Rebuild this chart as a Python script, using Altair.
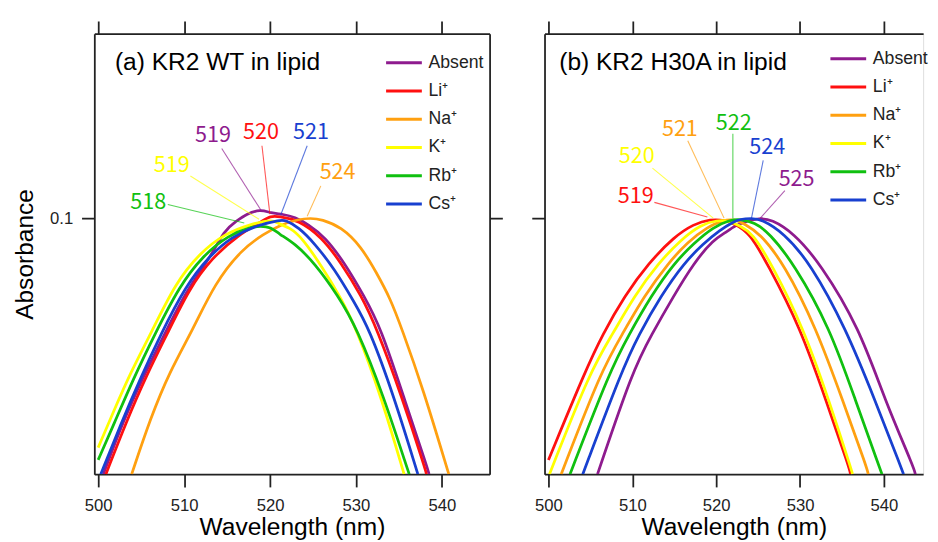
import altair as alt
import pandas as pd

series = ["Absent", "Li⁺", "Na⁺", "K⁺", "Rb⁺", "Cs⁺"]
colors = ["#8E1B8E", "#FF1010", "#FFA010", "#FFFF00", "#10C010", "#1840D0"]
x_ticks = [500, 510, 520, 530, 540]
y_ticks = [0.1]
y_domain = [0.0382, 0.2]
a_x_domain = [499.55, 545.55]
b_x_domain = [499.53, 544.68]

# ---------- (a) KR2 WT in lipid ----------
a_absent_x = [500.6, 502.9, 505.3, 507.8, 510.4, 513.0, 514.7, 516.1, 517.2, 518.9, 520.1, 521.5, 522.9, 524.4, 526.4, 528.7, 530.9, 532.9, 535.5, 538.4, 538.5]
a_absent_y = [0.0382, 0.0466, 0.0553, 0.0650, 0.0767, 0.0860, 0.0957, 0.0989, 0.1015, 0.1034, 0.1019, 0.1015, 0.1004, 0.0978, 0.0932, 0.0844, 0.0748, 0.0662, 0.0513, 0.0388, 0.0382]
a_li_x = [500.9, 503.3, 505.6, 508.1, 510.6, 513.2, 516.3, 519.3, 520.0, 521.0, 523.3, 526.0, 528.3, 530.6, 532.4, 535.3, 538.1, 538.2]
a_li_y = [0.0382, 0.0466, 0.0553, 0.0650, 0.0767, 0.0860, 0.0939, 0.0993, 0.1007, 0.1007, 0.0993, 0.0932, 0.0844, 0.0748, 0.0662, 0.0513, 0.0388, 0.0382]
a_na_x = [503.9, 506.1, 508.3, 511.0, 513.6, 516.7, 519.3, 521.2, 523.3, 524.7, 526.0, 528.3, 530.6, 532.4, 534.0, 535.3, 537.8, 540.8]
a_na_y = [0.0382, 0.0472, 0.0561, 0.0657, 0.0784, 0.0889, 0.0943, 0.0975, 0.0996, 0.1000, 0.0996, 0.0967, 0.0899, 0.0814, 0.0739, 0.0662, 0.0527, 0.0382]
a_k_x = [500.0, 501.8, 503.8, 506.1, 509.0, 511.8, 514.7, 517.8, 520.3, 521.0, 522.3, 523.7, 526.0, 528.3, 530.0, 532.9, 535.6]
a_k_y = [0.0422, 0.0484, 0.0561, 0.0647, 0.0784, 0.0876, 0.0943, 0.0978, 0.0996, 0.0978, 0.0965, 0.0930, 0.0835, 0.0739, 0.0662, 0.0513, 0.0382]
a_rb_x = [500.0, 501.8, 504.1, 506.6, 509.5, 512.1, 515.2, 517.8, 518.9, 520.1, 521.0, 522.9, 525.2, 527.9, 530.1, 533.2, 536.1, 536.2]
a_rb_y = [0.0403, 0.0460, 0.0547, 0.0647, 0.0776, 0.0866, 0.0939, 0.0967, 0.0971, 0.0967, 0.0943, 0.0909, 0.0844, 0.0748, 0.0662, 0.0513, 0.0385, 0.0382]
a_cs_x = [500.3, 502.6, 504.9, 507.3, 510.2, 512.9, 515.5, 518.6, 521.2, 521.8, 523.3, 525.2, 527.5, 529.8, 531.5, 534.4, 537.2]
a_cs_y = [0.0382, 0.0460, 0.0547, 0.0647, 0.0776, 0.0866, 0.0932, 0.0975, 0.0993, 0.0993, 0.0967, 0.0909, 0.0826, 0.0729, 0.0662, 0.0513, 0.0382]

# peak annotations (a): label, colour, text x/y, leader start x/y, leader end x/y
a_ann_label = ["519", "520", "521", "519", "524", "518"]
a_ann_color = ["#8E1B8E", "#FF1010", "#1840D0", "#FFFF00", "#FFA010", "#10C010"]
a_ann_tx = [513.36, 518.95, 524.77, 508.56, 527.86, 505.82]
a_ann_ty = [0.1368, 0.1383, 0.1383, 0.1220, 0.1189, 0.1061]
a_ann_x1 = [514.38, 519.06, 524.32, 510.73, 525.91, 508.10]
a_ann_y1 = [0.1299, 0.1313, 0.1313, 0.1172, 0.1129, 0.1053]
a_ann_x2 = [518.95, 519.98, 521.23, 518.72, 524.32, 517.00]
a_ann_y2 = [0.1030, 0.1015, 0.1011, 0.0996, 0.1007, 0.0982]

# ---------- (b) KR2 H30A in lipid ----------
b_absent_x = [505.85, 510.06, 512.28, 514.97, 517.31, 519.65, 521.29, 521.99, 522.81, 523.63, 525.15, 526.55, 529.24, 532.40, 537.08, 540.12, 543.63, 543.74]
b_absent_y = [0.0382, 0.0565, 0.0645, 0.0748, 0.0844, 0.0922, 0.0950, 0.0967, 0.0978, 0.0989, 0.1000, 0.0996, 0.0946, 0.0844, 0.0662, 0.0504, 0.0390, 0.0382]
b_li_x = [500.0, 504.44, 506.43, 509.12, 511.93, 514.97, 517.31, 519.30, 521.05, 522.22, 523.98, 526.08, 530.06, 533.10, 535.91, 536.02]
b_li_y = [0.0403, 0.0565, 0.0645, 0.0748, 0.0844, 0.0932, 0.0978, 0.0996, 0.0993, 0.0978, 0.0946, 0.0844, 0.0662, 0.0504, 0.0390, 0.0382]
b_na_x = [501.52, 506.32, 508.77, 511.46, 514.27, 516.61, 518.95, 520.82, 522.22, 523.39, 525.15, 528.07, 531.93, 535.09, 538.01, 538.13]
b_na_y = [0.0382, 0.0565, 0.0645, 0.0748, 0.0844, 0.0915, 0.0967, 0.0993, 0.0996, 0.0978, 0.0946, 0.0844, 0.0662, 0.0504, 0.0390, 0.0382]
b_k_x = [500.12, 505.03, 507.60, 510.29, 513.10, 515.79, 518.13, 520.12, 521.64, 522.81, 524.33, 526.55, 530.41, 533.45, 536.14, 536.26]
b_k_y = [0.0382, 0.0565, 0.0645, 0.0748, 0.0844, 0.0922, 0.0975, 0.0993, 0.0989, 0.0971, 0.0946, 0.0844, 0.0662, 0.0504, 0.0388, 0.0382]
b_rb_x = [502.57, 507.37, 509.59, 512.28, 514.97, 517.31, 519.65, 521.64, 522.81, 524.56, 526.32, 529.24, 533.57, 536.61, 539.53, 539.77]
b_rb_y = [0.0382, 0.0565, 0.0645, 0.0748, 0.0844, 0.0909, 0.0967, 0.0993, 0.0996, 0.0985, 0.0946, 0.0844, 0.0662, 0.0504, 0.0390, 0.0382]
b_cs_x = [504.09, 508.77, 510.76, 513.45, 516.14, 518.48, 520.47, 521.99, 522.81, 524.21, 525.38, 528.07, 531.23, 535.44, 538.95, 542.11, 542.34]
b_cs_y = [0.0382, 0.0565, 0.0645, 0.0748, 0.0844, 0.0909, 0.0957, 0.0985, 0.0996, 0.1000, 0.0996, 0.0946, 0.0844, 0.0662, 0.0504, 0.0390, 0.0382]

b_ann_label = ["519", "520", "521", "522", "524", "525"]
b_ann_color = ["#FF1010", "#FFFF00", "#FFA010", "#10C010", "#1840D0", "#8E1B8E"]
b_ann_tx = [510.41, 510.53, 515.67, 522.10, 526.08, 529.59]
b_ann_ty = [0.1088, 0.1261, 0.1398, 0.1430, 0.1304, 0.1159]
b_ann_x1 = [512.63, 512.40, 516.61, 521.99, 525.61, 528.19]
b_ann_y1 = [0.1061, 0.1207, 0.1338, 0.1373, 0.1243, 0.1109]
b_ann_x2 = [518.95, 519.65, 520.94, 521.99, 524.21, 525.26]
b_ann_y2 = [0.1004, 0.1000, 0.1000, 0.1000, 0.1000, 0.1000]

FONT = "Liberation Sans"
INK = "#222222"


def lines_df(xs_list, ys_list):
    rows = []
    for name, xs, ys in zip(series, xs_list, ys_list):
        for x, y in zip(xs, ys):
            rows.append({"series": name, "wl": x, "absb": y})
    return pd.DataFrame(rows)


def ann_df(lab, col, tx, ty, x1, y1, x2, y2):
    return pd.DataFrame({"label": lab, "col": col, "tx": tx, "ty": ty,
                         "x1": x1, "y1": y1, "x2": x2, "y2": y2})


def panel(ldf, adf, xdom, width, title, title_dx, first, lx, ly):
    xs = alt.Scale(domain=xdom, nice=False, zero=False)
    ys = alt.Scale(type="log", domain=y_domain, nice=False)
    axis_common = dict(tickSize=13, tickWidth=1.8, tickColor=INK, domainColor=INK,
                       domainWidth=1.8, grid=False)
    x_bottom = alt.Axis(orient="bottom", values=x_ticks, labelFontSize=17, labelFont=FONT,
                        labelColor=INK, labelPadding=11, labelFlush=False,
                        title="Wavelength (nm)", titleFontSize=25, titleFont=FONT,
                        titleFontWeight="normal", titleColor="black", titlePadding=2,
                        **axis_common)
    x_top = alt.Axis(orient="top", values=x_ticks, labels=False, title=None, **axis_common)
    if first:
        y_left = alt.Axis(orient="left", values=y_ticks, format=".1f", labelFontSize=17,
                          labelFont=FONT, labelColor=INK, labelPadding=9,
                          title="Absorbance", titleFontSize=25, titleFont=FONT,
                          titleFontWeight="normal", titleColor="black", titlePadding=12,
                          **axis_common)
        y_right = alt.Axis(orient="right", values=y_ticks, labels=False, title=None, **axis_common)
    else:
        y_left = alt.Axis(orient="left", values=y_ticks, labels=False, title=None, **axis_common)
        y_right = None

    legend = alt.Legend(orient="none", legendX=lx, legendY=ly, title=None,
                        symbolType="M-1.35,0H1.35", symbolSize=729, symbolStrokeWidth=3,
                        labelFontSize=18, labelFont=FONT, labelColor=INK, labelOffset=10,
                        rowPadding=4.8, padding=0)

    lines = alt.Chart(ldf).mark_line(strokeWidth=2.8, clip=True, interpolate="basis").encode(
        x=alt.X("wl:Q", scale=xs, axis=x_bottom),
        y=alt.Y("absb:Q", scale=ys, axis=y_left),
        color=alt.Color("series:N", scale=alt.Scale(domain=series, range=colors),
                        sort=series, legend=legend),
    )
    rules = alt.Chart(adf).mark_rule(strokeWidth=1.1, opacity=0.7).encode(
        x=alt.X("x1:Q", scale=xs, axis=x_top),
        y=alt.Y("y1:Q", scale=ys, axis=y_right),
        x2="x2:Q",
        y2="y2:Q",
        stroke=alt.Stroke("col:N", scale=None),
    )
    texts = alt.Chart(adf).mark_text(fontSize=22, font="Noto Sans CJK JP", align="center",
                                     baseline="middle").encode(
        x=alt.X("tx:Q", scale=xs, axis=None),
        y=alt.Y("ty:Q", scale=ys, axis=None),
        text="label:N",
        fill=alt.Fill("col:N", scale=None),
    )
    return alt.layer(lines, rules, texts).resolve_axis(x="independent", y="independent").properties(
        width=width, height=449,
        title=alt.TitleParams(title, anchor="start", orient="top", frame="group", offset=0,
                              dx=title_dx, dy=76, baseline="alphabetic", fontSize=25,
                              fontWeight="normal", font=FONT, color="black"),
    )


pa = panel(lines_df([a_absent_x, a_li_x, a_na_x, a_k_x, a_rb_x, a_cs_x],
                    [a_absent_y, a_li_y, a_na_y, a_k_y, a_rb_y, a_cs_y]),
           ann_df(a_ann_label, a_ann_color, a_ann_tx, a_ann_ty, a_ann_x1, a_ann_y1, a_ann_x2, a_ann_y2),
           a_x_domain, 403, "(a) KR2 WT in lipid", 21, True, 300.7, 14.5)
pb = panel(lines_df([b_absent_x, b_li_x, b_na_x, b_k_x, b_rb_x, b_cs_x],
                    [b_absent_y, b_li_y, b_na_y, b_k_y, b_rb_y, b_cs_y]),
           ann_df(b_ann_label, b_ann_color, b_ann_tx, b_ann_ty, b_ann_x1, b_ann_y1, b_ann_x2, b_ann_y2),
           b_x_domain, 386, "(b) KR2 H30A in lipid", 15, False, 294.7, 10.5)

chart = alt.hconcat(pa, pb, spacing=26).resolve_scale(color="independent").resolve_legend(
    color="independent").properties(
    padding={"left": 4, "top": 6, "right": 0, "bottom": 0}
).configure_view(stroke=None).configure(font=FONT)

chart.save("out.html", embed_options={"renderer": "svg", "actions": False})
